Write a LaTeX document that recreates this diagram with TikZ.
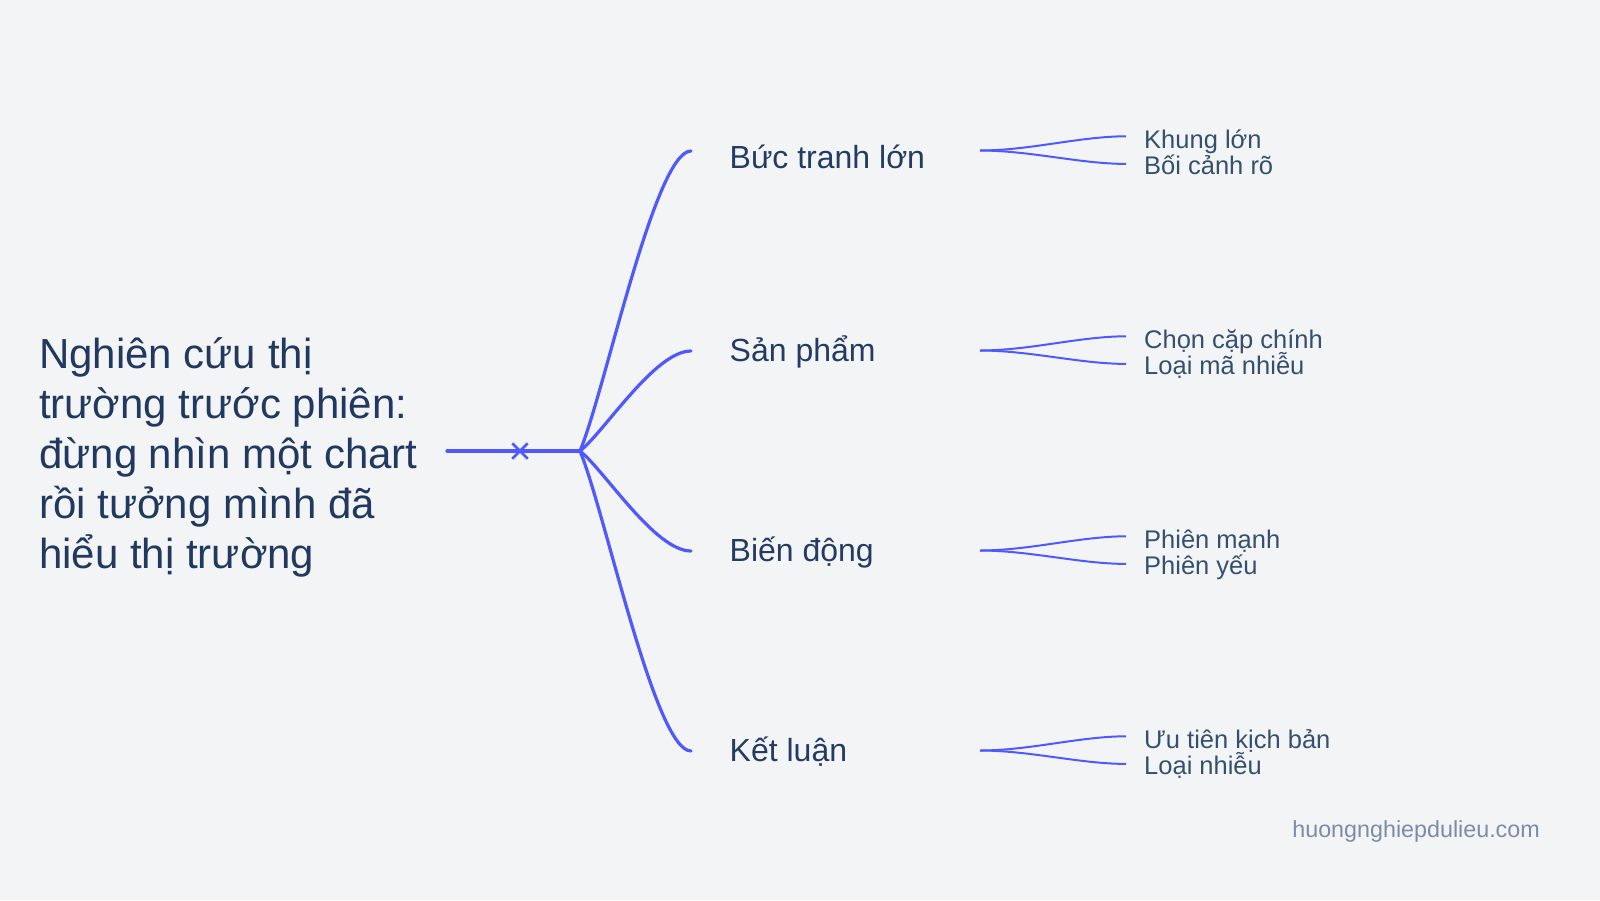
\documentclass[tikz,border=0pt]{standalone}
\usepackage{fontspec}
\setmainfont{Liberation Sans}
\usetikzlibrary{shapes.misc}
\definecolor{bg}{HTML}{F3F4F6}
\definecolor{linkc}{HTML}{5059FF}
\definecolor{titlec}{HTML}{21385F}
\definecolor{labelc}{HTML}{243B63}
\definecolor{leafc}{HTML}{34506E}
\definecolor{markc}{HTML}{7E8BA8}
\tikzset{
  link/.style={draw=linkc, line width=3.2pt, line cap=round},
  leaflink/.style={draw=linkc, line width=2pt},
  titletext/.style={anchor=base west, inner sep=0pt, text=titlec, font=\fontsize{42}{50}\selectfont},
  branchtext/.style={anchor=base west, inner sep=0pt, text=labelc, font=\fontsize{32}{36}\selectfont},
  leaftext/.style={anchor=base west, inner sep=0pt, text=leafc, font=\fontsize{25.5}{30}\selectfont},
  marktext/.style={anchor=base east, inner sep=0pt, text=markc, font=\fontsize{23.3}{26}\selectfont},
}
\begin{document}
\begin{tikzpicture}[x=1pt,y=-1pt]
\fill[bg] (0,0) rectangle (1600,900);
\useasboundingbox (0,0) rectangle (1600,900);

% title
\node[titletext] (t1) at (39,368.3) {Nghiên cứu thị};
\node[titletext] (t2) at (39,418.3) {trường trước phiên:};
\node[titletext] (t3) at (39,468.3) {đừng nhìn một chart};
\node[titletext] (t4) at (39,518.3) {rồi tưởng mình đã};
\node[titletext] (t5) at (39,568.3) {hiểu thị trường};

% root connector
\coordinate (rootstart) at (447,451);
\coordinate (hub) at (580,451);
\draw[link] (rootstart) -- (hub);
\node[cross out, draw=linkc, line width=2.5pt, minimum size=13pt, inner sep=0pt] (mark) at (520,451) {};

% branch ends
\coordinate (b1) at (691,151);
\coordinate (b2) at (691,351);
\coordinate (b3) at (691,551);
\coordinate (b4) at (691,751);
\draw[link] (hub) .. controls (605,391) and (655,151) .. (b1);
\draw[link] (hub) .. controls (605,431) and (655,351) .. (b2);
\draw[link] (hub) .. controls (605,471) and (655,551) .. (b3);
\draw[link] (hub) .. controls (605,511) and (655,751) .. (b4);

% branch labels
\node[branchtext] (l1) at (729.5,168.5) {Bức tranh lớn};
\node[branchtext] (l2) at (729.5,361.5) {Sản phẩm};
\node[branchtext] (l3) at (729.5,561.5) {Biến động};
\node[branchtext] (l4) at (729.5,761.5) {Kết luận};

% leaf connectors
\foreach \i/\y in {1/150.5,2/350.5,3/550.5,4/750.5}{
  \coordinate (s\i) at (980,\y);
  \coordinate (u\i) at (1126,\y-14.2);
  \coordinate (d\i) at (1126,\y+13.4);
  \draw[leaflink] (s\i) .. controls (1030,\y) and (1080,\y-14.2) .. (u\i);
  \draw[leaflink] (s\i) .. controls (1030,\y) and (1080,\y+13.4) .. (d\i);
}

% leaf labels
\node[leaftext] (k1a) at (1144,148) {Khung lớn};
\node[leaftext] (k1b) at (1144,174.5) {Bối cảnh rõ};
\node[leaftext] (k2a) at (1144,348) {Chọn cặp chính};
\node[leaftext] (k2b) at (1144,374.5) {Loại mã nhiễu};
\node[leaftext] (k3a) at (1144,548) {Phiên mạnh};
\node[leaftext] (k3b) at (1144,574.5) {Phiên yếu};
\node[leaftext] (k4a) at (1144,748) {Ưu tiên kịch bản};
\node[leaftext] (k4b) at (1144,774.5) {Loại nhiễu};

% watermark
\node[marktext] (wm) at (1540,837.5) {huongnghiepdulieu.com};
\end{tikzpicture}
\end{document}
